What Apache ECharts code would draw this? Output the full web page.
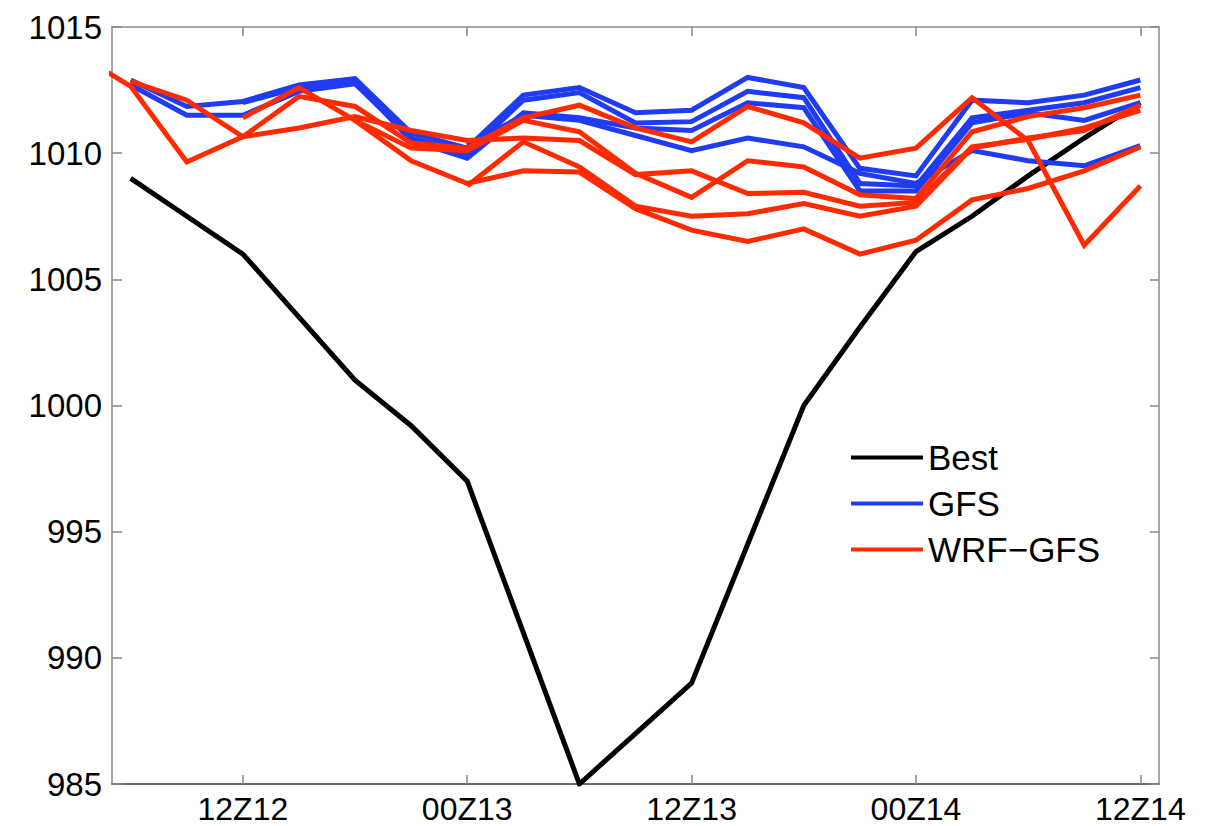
<!DOCTYPE html>
<html>
<head>
<meta charset="utf-8">
<title>Sea-level pressure: Best track vs GFS and WRF-GFS forecasts</title>
<script src="https://cdn.jsdelivr.net/npm/echarts@6/dist/echarts.min.js"></script>
<style>
  html, body { margin: 0; padding: 0; background: #fff; }
  #chart { width: 1222px; height: 826px; }
</style>
</head>
<body>
<div id="chart"></div>
<script>
// Forecast hours counted from 00Z on the 12th, every 3 hours
const hours = [3, 6, 9, 12, 15, 18, 21, 24, 27, 30, 33, 36, 39, 42, 45, 48, 51, 54, 57, 60];

// Best-track minimum pressure (hPa)
const best = [null, 1009, 1007.5, 1006, 1003.5, 1001, 999.2, 997, 991, 985, 987, 989, 994.5, 1000, 1003.1, 1006.1, 1007.5, 1009.1, 1010.6, 1012];

// GFS runs (hPa)
const gfsA = [null, 1012.9, 1011.85, 1012.05, 1012.7, 1012.95, 1010.8, 1010.2, 1012.3, 1012.6, 1011.6, 1011.7, 1013.0, 1012.6, 1009.4, 1009.1, 1012.1, 1012.0, 1012.3, 1012.9];
const gfsB = [null, 1012.7, 1011.5, 1011.5, 1012.45, 1012.75, 1010.6, 1010.0, 1012.1, 1012.4, 1011.2, 1011.25, 1012.45, 1012.2, 1008.8, 1008.7, 1011.4, 1011.7, 1012.0, 1012.6];
const gfsC = [null, null, null, 1012.0, 1012.6, 1012.85, 1010.5, 1009.8, 1011.6, 1011.4, 1011.0, 1010.9, 1012.0, 1011.8, 1008.5, 1008.5, 1011.2, 1011.6, 1011.3, 1012.0];
const gfsD = [null, null, null, null, null, null, null, 1010.3, 1011.5, 1011.3, 1010.7, 1010.1, 1010.6, 1010.25, 1009.2, 1008.8, 1010.1, 1009.7, 1009.5, 1010.3];

// WRF-GFS runs (hPa)
const wrfA = [1014.0, 1012.65, 1009.65, 1010.65, 1011.0, 1011.45, 1010.9, 1010.5, 1010.6, 1010.5, 1009.15, 1009.3, 1008.4, 1008.45, 1007.9, 1008.05, 1010.25, 1010.55, 1011.0, 1011.7];
const wrfB = [null, 1012.85, 1012.1, 1010.65, 1012.25, 1011.85, 1010.4, 1010.2, 1011.4, 1011.9, 1011.0, 1010.45, 1011.85, 1011.2, 1009.8, 1010.2, 1012.2, 1010.5, 1006.35, 1008.7];
const wrfC = [null, null, null, 1011.4, 1012.6, 1011.3, 1010.2, 1010.1, 1011.3, 1010.85, 1009.2, 1008.25, 1009.7, 1009.45, 1008.35, 1008.2, 1010.85, 1011.45, 1011.8, 1012.3];
const wrfD = [null, null, null, null, null, 1011.3, 1009.7, 1008.8, 1009.3, 1009.25, 1007.8, 1006.95, 1006.5, 1007.0, 1006.0, 1006.55, 1008.15, 1008.6, 1009.3, 1010.25];
const wrfE = [null, null, null, null, null, null, null, 1008.7, 1010.45, 1009.45, 1007.9, 1007.5, 1007.6, 1008.0, 1007.5, 1007.9, 1010.2, 1010.6, 1010.9, 1011.9];

// Axis ticks
const xTickHours = [12, 24, 36, 48, 60];
const xTickLabels = ['12Z12', '00Z13', '12Z13', '00Z14', '12Z14'];
const yTicks = [985, 990, 995, 1000, 1005, 1010, 1015];

const seriesNames = ['Best', 'GFS', 'WRF\u2212GFS'];
const colors = { best: '#000000', gfs: '#1f3cf4', wrf: '#ff2a00' };

const FONT = '"Liberation Sans", Arial, Helvetica, sans-serif';

function toPoints(values) {
  const pts = [];
  values.forEach((v, i) => { if (v !== null) pts.push([hours[i], v]); });
  return pts;
}

function lineSeries(name, values, color) {
  return {
    name: name,
    type: 'line',
    data: toPoints(values),
    symbol: 'none',
    clip: true,
    silent: true,
    itemStyle: { color: color },
    lineStyle: { color: color, width: 5, join: 'miter', cap: 'butt' }
  };
}

const series = [lineSeries(seriesNames[0], best, colors.best)];
[gfsA, gfsB, gfsC, gfsD].forEach(v => series.push(lineSeries(seriesNames[1], v, colors.gfs)));
[wrfA, wrfB, wrfC, wrfD, wrfE].forEach(v => series.push(lineSeries(seriesNames[2], v, colors.wrf)));

const xMin = 5, xMax = 61;
const yMin = yTicks[0], yMax = yTicks[yTicks.length - 1];

const chart = echarts.init(document.getElementById('chart'), null, { renderer: 'svg' });
chart.setOption({
  animation: false,
  backgroundColor: '#ffffff',
  grid: { left: 112, right: 63, top: 27, bottom: 42, containLabel: false },
  legend: {
    data: seriesNames,
    orient: 'vertical',
    left: 846,
    top: 434,
    icon: 'rect',
    itemWidth: 72,
    itemHeight: 4,
    itemGap: 9,
    selectedMode: false,
    textStyle: { fontFamily: FONT, fontSize: 35, color: '#000', lineHeight: 37 }
  },
  xAxis: [
    {
      type: 'value', position: 'bottom', min: xMin, max: xMax,
      axisLine: { show: true, lineStyle: { color: '#3c3c3c', width: 1.5 } },
      axisTick: { show: true, inside: true, length: 9, customValues: xTickHours, lineStyle: { color: '#888', width: 1.5 } },
      axisLabel: {
        show: true, customValues: xTickHours, margin: 10,
        fontFamily: FONT, fontSize: 32, lineHeight: 30, color: '#000',
        formatter: v => xTickLabels[xTickHours.indexOf(v)] || ''
      },
      splitLine: { show: false }
    },
    {
      type: 'value', position: 'top', min: xMin, max: xMax,
      axisLine: { show: true, onZero: false, lineStyle: { color: '#8a8a8a', width: 1.5 } },
      axisTick: { show: true, inside: true, length: 9, customValues: xTickHours, lineStyle: { color: '#888', width: 1.5 } },
      axisLabel: { show: false },
      splitLine: { show: false }
    }
  ],
  yAxis: [
    {
      type: 'value', position: 'left', min: yMin, max: yMax, interval: 5,
      axisLine: { show: true, onZero: false, lineStyle: { color: '#8a8a8a', width: 1.5 } },
      axisTick: { show: true, inside: true, length: 10, lineStyle: { color: '#888', width: 1.5 } },
      axisLabel: {
        show: true, margin: 10, fontFamily: FONT, fontSize: 33, color: '#000',
        formatter: v => String(v)
      },
      splitLine: { show: false }
    },
    {
      type: 'value', position: 'right', min: yMin, max: yMax, interval: 5,
      axisLine: { show: true, onZero: false, lineStyle: { color: '#8a8a8a', width: 1.5 } },
      axisTick: { show: true, inside: true, length: 9, lineStyle: { color: '#888', width: 1.5 } },
      axisLabel: { show: false },
      splitLine: { show: false }
    }
  ],
  series: series
});
</script>
</body>
</html>
